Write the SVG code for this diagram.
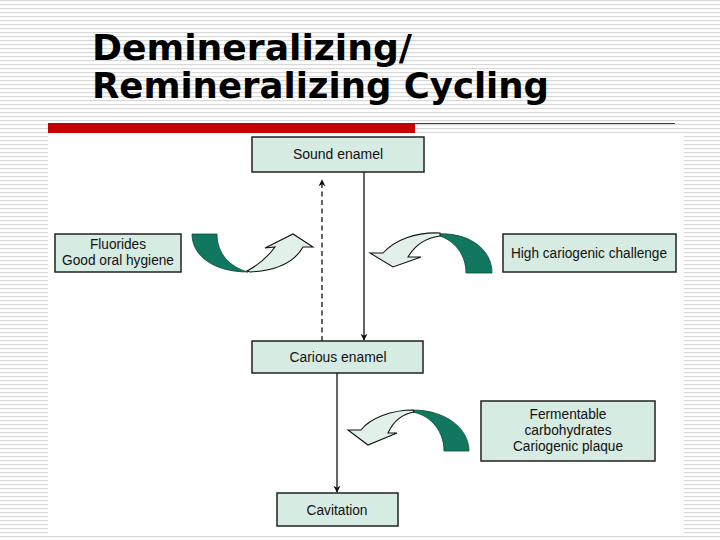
<svg xmlns="http://www.w3.org/2000/svg" width="720" height="540" viewBox="0 0 720 540">
<defs>
<pattern id="stripes" x="0" y="0" width="8" height="4" patternUnits="userSpaceOnUse">
<rect x="0" y="0" width="8" height="1.2" fill="#d8d8d8"/>
</pattern>
<marker id="ah" viewBox="0 0 10 10" refX="9" refY="5" markerWidth="7" markerHeight="7" orient="auto" markerUnits="userSpaceOnUse">
<path d="M0,0 L10,5 L0,10 L3,5 Z" fill="#111"/>
</marker>
</defs>
<style>
.box{fill:#d6ebe2;stroke:#222;stroke-width:1.5}
.lbl{font-family:"Liberation Sans",Arial,sans-serif;font-size:14px;fill:#111;text-anchor:middle}
.title{font-family:"DejaVu Sans Condensed","DejaVu Sans",sans-serif;font-weight:bold;font-size:36px;fill:#000}
.dark{fill:#11775e;stroke:#0a4a3a;stroke-width:0.8}
.light{fill:#e2f0ea;stroke:#111;stroke-width:1.1}
.conn{stroke:#111;stroke-width:1.3;fill:none}
</style>
<rect width="720" height="540" fill="#ffffff"/>
<rect width="720" height="540" fill="url(#stripes)"/>
<rect x="48" y="133" width="636" height="403" fill="#ffffff"/>
<g id="title">
<text class="title" x="92" y="60" textLength="320" lengthAdjust="spacingAndGlyphs">Demineralizing/</text>
<text class="title" x="92" y="98" textLength="457" lengthAdjust="spacingAndGlyphs">Remineralizing Cycling</text>
</g>
<g id="rule">
<rect x="48" y="123" width="367" height="10" fill="#c40000"/>
<line x1="415" y1="123.5" x2="675" y2="123.5" stroke="#8b1f24" stroke-width="1"/>
</g>
<g id="connectors">
<line class="conn" x1="364" y1="172" x2="364" y2="340" marker-end="url(#ah)"/>
<line class="conn" x1="322" y1="341" x2="322" y2="180" stroke-dasharray="5,3.5" marker-end="url(#ah)"/>
<line class="conn" x1="337" y1="373" x2="337" y2="492" marker-end="url(#ah)"/>
</g>
<g id="curved-arrows">
<path class="dark" d="M192,234 L217,234 C217,254 230,267 248,272 C214,272 192,256 192,234 Z"/>
<path class="light" d="M247,271 Q264,262 275,247 L265,248 L293,234 L313,247 L303,247 Q290,270 250,272 Z"/>
<path class="dark" d="M437,234 C470,232 492,250 492,273 L466,273 C466,255 455,240 437,235 Z"/>
<path class="light" d="M440,233 C415,232 395,240 383,253 L370,253 L393,267 L421,257 L408,257 C415,245 425,238 440,236 Z"/>
<path class="dark" d="M413,410 C445,410 469,428 469,451 L444,451 C444,432 432,416 413,412 Z"/>
<path class="light" d="M413,410 C392,410 370,418 361,430 L348,430 L368,445 L397,433 L388,433 C393,422 402,414 414,412 Z"/>
</g>
<g id="sound-enamel">
<rect class="box" x="252" y="137" width="172" height="35"/>
<text class="lbl" x="338" y="159" textLength="90" lengthAdjust="spacingAndGlyphs">Sound enamel</text>
</g>
<g id="fluorides">
<rect class="box" x="55" y="234" width="126" height="38"/>
<text class="lbl" x="118" y="249" textLength="56" lengthAdjust="spacingAndGlyphs">Fluorides</text>
<text class="lbl" x="118" y="265" textLength="112" lengthAdjust="spacingAndGlyphs">Good oral hygiene</text>
</g>
<g id="high-cariogenic">
<rect class="box" x="503" y="234" width="173" height="38"/>
<text class="lbl" x="589" y="258" textLength="156" lengthAdjust="spacingAndGlyphs">High cariogenic challenge</text>
</g>
<g id="carious-enamel">
<rect class="box" x="252" y="341" width="171" height="32"/>
<text class="lbl" x="338" y="362" textLength="97" lengthAdjust="spacingAndGlyphs">Carious enamel</text>
</g>
<g id="fermentable">
<rect class="box" x="481" y="401" width="174" height="60"/>
<text class="lbl" x="568" y="419" textLength="77" lengthAdjust="spacingAndGlyphs">Fermentable</text>
<text class="lbl" x="568" y="435" textLength="87" lengthAdjust="spacingAndGlyphs">carbohydrates</text>
<text class="lbl" x="568" y="451" textLength="110" lengthAdjust="spacingAndGlyphs">Cariogenic plaque</text>
</g>
<g id="cavitation">
<rect class="box" x="277" y="493" width="121" height="33"/>
<text class="lbl" x="337" y="515" textLength="61" lengthAdjust="spacingAndGlyphs">Cavitation</text>
</g>
</svg>
